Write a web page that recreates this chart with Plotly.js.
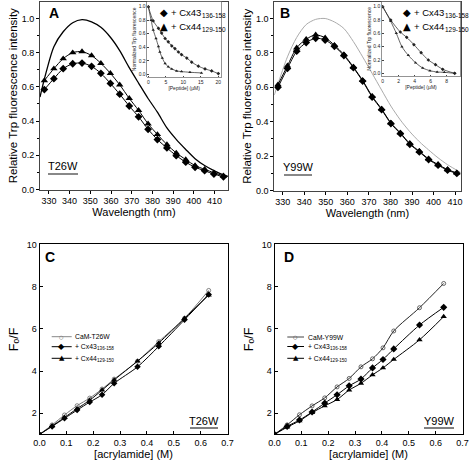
<!DOCTYPE html>
<html><head><meta charset="utf-8">
<script src="https://cdn.plot.ly/plotly-3.0.1.min.js"></script>
<style>html,body{margin:0;padding:0;background:#fff}#chart{width:469px;height:466px}</style>
</head><body><div id="chart"></div>
<script>
// ---------- Panel A (T26W) emission spectra ----------
const wlA = [327.8, 332.4, 336.9, 341.5, 346.0, 350.6, 355.1, 359.7, 364.2, 368.8, 373.3, 377.9, 382.4, 387.0, 391.5, 396.1, 400.6, 405.2, 409.7, 414.3];
const aCx43 = [0.584, 0.648, 0.706, 0.735, 0.739, 0.720, 0.679, 0.620, 0.557, 0.488, 0.425, 0.352, 0.292, 0.243, 0.198, 0.160, 0.130, 0.110, 0.090, 0.074];
const aCx44 = [0.637, 0.706, 0.765, 0.800, 0.806, 0.783, 0.738, 0.679, 0.612, 0.533, 0.463, 0.384, 0.322, 0.263, 0.214, 0.175, 0.140, 0.118, 0.098, 0.080];
const wlAfree = [325.7, 327.8, 332.4, 336.9, 341.5, 346.0, 350.6, 355.1, 359.7, 364.2, 368.8, 373.3, 377.9, 382.4, 387.0, 391.5, 396.1, 400.6, 405.2, 409.7, 414.3, 416.5];
const aFree = [0.54, 0.645, 0.835, 0.922, 0.975, 0.993, 0.980, 0.948, 0.890, 0.812, 0.712, 0.622, 0.532, 0.452, 0.360, 0.293, 0.234, 0.180, 0.140, 0.110, 0.085, 0.077];

// Panel A inset (titration)
const pepA43 = [0, 1.4, 2.9, 3.8, 4.8, 5.7, 6.7, 7.6, 8.6, 9.5, 11.0, 12.4, 14.3, 16.2, 18.1, 20.0];
const insA43 = [1.0, 0.79, 0.68, 0.61, 0.53, 0.48, 0.42, 0.38, 0.33, 0.29, 0.24, 0.18, 0.12, 0.08, 0.05, 0.01];
const pepA44 = [0, 0.8, 1.4, 2.2, 2.9, 3.3, 4.0, 4.8, 5.7, 6.7, 8.1, 9.5, 11.9, 15.2];
const insA44 = [1.0, 0.80, 0.655, 0.53, 0.41, 0.33, 0.24, 0.16, 0.11, 0.08, 0.05, 0.04, 0.03, 0.02];

// ---------- Panel B (Y99W) emission spectra ----------
const wlB = [327.8, 332.2, 336.5, 340.9, 345.3, 349.7, 354.0, 358.4, 362.8, 367.1, 371.5, 375.9, 380.2, 384.6, 389.0, 393.4, 397.7, 402.1, 406.5, 410.8];
const bCx43 = [0.600, 0.710, 0.810, 0.860, 0.885, 0.875, 0.838, 0.785, 0.714, 0.636, 0.543, 0.470, 0.389, 0.331, 0.269, 0.224, 0.180, 0.147, 0.118, 0.099];
const bCx44 = [0.615, 0.725, 0.830, 0.880, 0.905, 0.888, 0.845, 0.790, 0.718, 0.640, 0.548, 0.474, 0.393, 0.335, 0.273, 0.228, 0.184, 0.151, 0.122, 0.102];
const wlBfree = [326.1, 327.8, 332.2, 336.5, 340.9, 345.3, 349.7, 354.0, 358.4, 362.8, 367.1, 371.5, 375.9, 380.2, 384.6, 389.0, 393.4, 397.7, 402.1, 406.5, 410.8, 412.6];
const bFree = [0.555, 0.62, 0.777, 0.890, 0.965, 0.995, 1.000, 0.980, 0.942, 0.866, 0.777, 0.681, 0.584, 0.491, 0.410, 0.342, 0.284, 0.236, 0.190, 0.150, 0.118, 0.105];

// Panel B inset
const pepB43 = [0, 1.0, 2.2, 3.0, 3.9, 4.8, 5.7, 6.6, 7.5, 9.0];
const insB43 = [1.0, 0.80, 0.62, 0.54, 0.43, 0.31, 0.20, 0.13, 0.06, 0.0];
const pepB44 = [0, 1.0, 1.7, 2.4, 3.2, 4.1, 5.0, 5.9, 6.8, 7.7, 9.0];
const insB44 = [1.0, 0.78, 0.60, 0.40, 0.27, 0.16, 0.08, 0.04, 0.02, 0.015, 0.0];

// ---------- Panel C (T26W) Stern-Volmer ----------
const concC = [0, 0.047, 0.093, 0.14, 0.187, 0.233, 0.278, 0.365, 0.444, 0.54, 0.63];
const cFree = [1, 1.45, 1.92, 2.36, 2.72, 3.15, 3.62, 4.47, 5.40, 6.50, 7.82];
const cCx43 = [1, 1.38, 1.76, 2.15, 2.53, 2.88, 3.42, 4.20, 5.17, 6.43, 7.63];
const cCx44 = [1, 1.40, 1.80, 2.22, 2.62, 3.10, 3.58, 4.47, 5.33, 6.50, 7.60];

// ---------- Panel D (Y99W) Stern-Volmer ----------
const concD = [0, 0.047, 0.093, 0.14, 0.187, 0.233, 0.278, 0.322, 0.365, 0.404, 0.444, 0.54, 0.63];
const dFree = [1, 1.45, 1.93, 2.35, 2.73, 3.25, 3.65, 4.20, 4.58, 5.10, 5.90, 7.00, 8.15];
const dCx43 = [1, 1.38, 1.68, 2.06, 2.48, 2.88, 3.30, 3.62, 4.15, 4.55, 5.05, 6.18, 7.02];
const dCx44 = [1, 1.34, 1.64, 2.03, 2.35, 2.65, 3.10, 3.42, 3.82, 4.15, 4.55, 5.48, 6.58];

// Text labels
const wlTicks = [330, 340, 350, 360, 370, 380, 390, 400, 410];
const lblCx43 = '+ Cx43', subCx43 = '136-158';
const lblCx44 = '+ Cx44', subCx44 = '129-150';

// ---------- layout helpers ----------
const W = 469, H = 466;
const fx = v => v / W;
const fy = v => 1 - v / H;
const FONT = 'Liberation Sans, Arial, Helvetica, sans-serif';

const spec = (x, y, name, xa, ya, sym, size, col, lw, mode) => ({
  x, y, name, xaxis: xa, yaxis: ya, type: 'scatter', mode: mode || 'lines+markers',
  line: {shape: 'spline', smoothing: 0.8, color: col, width: lw},
  marker: {symbol: sym, size: size, color: col, line: {width: 0}},
  showlegend: false, hoverinfo: 'skip'
});

const traces = [
  // A
  spec(wlAfree, aFree, 'CaM-T26W', 'x', 'y', 'circle', 1, '#000', 1.3, 'lines'),
  spec(wlA, aCx44, 'Cx44', 'x', 'y', 'triangle-up', 6.5, '#000', 1),
  spec(wlA, aCx43, 'Cx43', 'x', 'y', 'diamond', 6, '#000', 1),
  // B
  spec(wlBfree, bFree, 'CaM-Y99W', 'x2', 'y2', 'circle', 1, '#aaa', 1, 'lines'),
  spec(wlB, bCx44, 'Cx44', 'x2', 'y2', 'triangle-up', 6.5, '#000', 1),
  spec(wlB, bCx43, 'Cx43', 'x2', 'y2', 'diamond', 6, '#000', 1),
  // C
  Object.assign(spec(concC, cFree, 'CaM-T26W', 'x3', 'y3', 'circle-open', 4, '#777', 1), {marker: {symbol: 'circle-open', size: 4, color: '#666', line: {width: 0.8, color: '#666'}}}),
  spec(concC, cCx43, 'Cx43', 'x3', 'y3', 'diamond', 5, '#000', 1),
  spec(concC, cCx44, 'Cx44', 'x3', 'y3', 'triangle-up', 5.5, '#000', 1),
  // D
  Object.assign(spec(concD, dFree, 'CaM-Y99W', 'x4', 'y4', 'circle-open', 4, '#222', 1), {marker: {symbol: 'circle-open', size: 4, color: '#444', line: {width: 0.8, color: '#444'}}}),
  spec(concD, dCx43, 'Cx43', 'x4', 'y4', 'diamond', 5.5, '#000', 1),
  spec(concD, dCx44, 'Cx44', 'x4', 'y4', 'triangle-up', 5.5, '#000', 1),
  // insets
  spec(pepA43, insA43, 'Cx43', 'x5', 'y5', 'diamond', 2.8, '#222', 0.7),
  spec(pepA44, insA44, 'Cx44', 'x5', 'y5', 'triangle-up', 3, '#222', 0.7),
  spec(pepB43, insB43, 'Cx43', 'x6', 'y6', 'diamond', 2.8, '#222', 0.7),
  spec(pepB44, insB44, 'Cx44', 'x6', 'y6', 'triangle-up', 3, '#222', 0.7)
];

const tickF = {family: FONT, size: 9, color: '#000'};
const titleF = {family: FONT, size: 11, color: '#000'};
const mainBase = {showgrid: false, zeroline: false, showline: true, mirror: true, linecolor: '#444', linewidth: 1,
  ticks: 'outside', ticklen: 3, tickcolor: '#000', tickfont: tickF, automargin: false, fixedrange: true};
const svBase = {showgrid: false, zeroline: false, showline: true, mirror: true, linecolor: '#000', linewidth: 1,
  ticks: 'inside', ticklen: 3, tickcolor: '#000', tickfont: tickF, automargin: false, fixedrange: true};
const inBase = {showgrid: false, zeroline: false, showline: true, mirror: true, linecolor: '#666', linewidth: 0.7,
  ticks: 'inside', ticklen: 1.5, tickcolor: '#444', tickfont: {family: FONT, size: 5, color: '#222'}, automargin: false, fixedrange: true};
const inTitleF = {family: FONT, size: 5, color: '#222'};
const fofF = {family: 'Liberation Sans, DejaVu Sans, sans-serif', size: 12.5, color: '#000'};

const layout = {
  width: W, height: H, margin: {l: 0, r: 0, t: 0, b: 0},
  paper_bgcolor: '#fff', plot_bgcolor: '#fff', showlegend: false,
  font: {family: FONT, color: '#000'},
  xaxis: Object.assign({}, mainBase, {domain: [fx(40), fx(228)], range: [325.7, 416.5], anchor: 'y',
    tickvals: wlTicks, title: {text: 'Wavelength (nm)', font: titleF, standoff: 3}}),
  yaxis: Object.assign({}, mainBase, {domain: [fy(189.5), fy(2)], range: [0, 1.096], anchor: 'x',
    dtick: 0.2, tickformat: '.1f', minor: {dtick: 0.1, ticks: 'outside', ticklen: 2.5, tickcolor: '#000'},
    title: {text: 'Relative Trp fluorescence intensity', font: {family: FONT, size: 11.5, color: '#000'}, standoff: 1}}),
  xaxis2: Object.assign({}, mainBase, {domain: [fx(274.3), fx(460.7)], range: [326.1, 412.6], anchor: 'y2',
    tickvals: wlTicks, title: {text: 'Wavelength (nm)', font: titleF, standoff: 3}}),
  yaxis2: Object.assign({}, mainBase, {domain: [fy(190.5), fy(2)], range: [0, 1.096], anchor: 'x2',
    dtick: 0.2, tickformat: '.1f', minor: {dtick: 0.1, ticks: 'outside', ticklen: 2.5, tickcolor: '#000'},
    title: {text: 'Relative Trp fluorescence intensity', font: {family: FONT, size: 11.5, color: '#000'}, standoff: 1}}),
  xaxis3: Object.assign({}, svBase, {domain: [fx(39.5), fx(227.5)], range: [0, 0.7], anchor: 'y3',
    dtick: 0.1, tickformat: '.1f', title: {text: '[acrylamide] (M)', font: titleF, standoff: 3}}),
  yaxis3: Object.assign({}, svBase, {domain: [fy(434.4), fy(244.4)], range: [1, 10], anchor: 'x3',
    tickvals: [2, 4, 6, 8, 10], title: {text: 'Fₒ/F', font: fofF, standoff: 5}}),
  xaxis4: Object.assign({}, svBase, {domain: [fx(274.5), fx(462.5)], range: [0, 0.7], anchor: 'y4',
    dtick: 0.1, tickformat: '.1f', title: {text: '[acrylamide] (M)', font: titleF, standoff: 3}}),
  yaxis4: Object.assign({}, svBase, {domain: [fy(434.4), fy(244.4)], range: [1, 10], anchor: 'x4',
    tickvals: [2, 4, 6, 8, 10], title: {text: 'Fₒ/F', font: fofF, standoff: 5}}),
  xaxis5: Object.assign({}, inBase, {domain: [fx(147.3), fx(221)], range: [-0.29, 20.77], anchor: 'y5',
    dtick: 5, title: {text: '[Peptide] (µM)', font: inTitleF, standoff: 1}}),
  yaxis5: Object.assign({}, inBase, {domain: [fy(77), fy(1.7)], range: [-0.04, 1.074], anchor: 'x5',
    dtick: 0.2, tickformat: '.1f', title: {text: 'Normalized Trp fluorescence', font: inTitleF, standoff: 1}}),
  xaxis6: Object.assign({}, inBase, {domain: [fx(382), fx(460)], range: [-0.09, 9.66], anchor: 'y6',
    dtick: 2, title: {text: '[Peptide] (µM)', font: inTitleF, standoff: 1}}),
  yaxis6: Object.assign({}, inBase, {domain: [fy(76), fy(1.7)], range: [-0.04, 1.075], anchor: 'x6',
    dtick: 0.2, tickformat: '.1f', title: {text: 'Normalized Trp fluorescence', font: inTitleF, standoff: 1}}),
  annotations: [],
  shapes: []
};

const ann = (x, y, text, size, opts) => Object.assign({
  xref: 'paper', yref: 'paper', x: fx(x), y: fy(y), text, showarrow: false,
  xanchor: 'center', yanchor: 'middle', font: {family: FONT, size, color: '#000'}
}, opts || {});
const hline = (x0, x1, y, color, width) => ({type: 'line', xref: 'paper', yref: 'paper',
  x0: fx(x0), x1: fx(x1), y0: fy(y), y1: fy(y), line: {color, width}});

// panel letters
layout.annotations.push(ann(54, 12.5, '<b>A</b>', 14));
layout.annotations.push(ann(284.5, 12.5, '<b>B</b>', 14));
layout.annotations.push(ann(49.5, 256.5, '<b>C</b>', 14));
layout.annotations.push(ann(288.5, 256.5, '<b>D</b>', 14));
// mutant labels
layout.annotations.push(ann(63, 166, 'T26W', 11));
layout.shapes.push(hline(48, 78, 174, '#888', 2));
layout.annotations.push(ann(298, 167, 'Y99W', 11));
layout.shapes.push(hline(284, 312, 175, '#888', 2));
layout.annotations.push(ann(204, 420.5, 'T26W', 11));
layout.shapes.push(hline(190, 218, 428, '#000', 1));
layout.annotations.push(ann(439, 420.5, 'Y99W', 11));
layout.shapes.push(hline(424, 454, 428, '#000', 1));

// label + subscript written as two texts
const EM_CX = 3.196; // width of "+ Cx43" in em
function labelWithSub(tx, y, main, sub, size, col) {
  layout.annotations.push(ann(tx, y, main, size, {xanchor: 'left', font: {family: FONT, size, color: col || '#000'}}));
  layout.annotations.push(ann(tx + EM_CX * size + 0.5, y + size * 0.3, sub, size * 0.68,
    {xanchor: 'left', font: {family: FONT, size: size * 0.68, color: col || '#000'}}));
}

// inset legends
const glyphF = 'DejaVu Sans, sans-serif';
function insetLegend(mx, tx, rows) {
  rows.forEach(([glyph, label, sub, y]) => {
    layout.annotations.push(ann(mx, y, glyph, 10, {font: {family: glyphF, size: 10, color: '#000'}}));
    labelWithSub(tx, y, label, sub, 9.5);
  });
}
insetLegend(164, 169, [['◆', lblCx43, subCx43, 12.7], ['▲', lblCx44, subCx44, 26.7]]);
insetLegend(407, 412, [['◆', lblCx43, subCx43, 12.7], ['▲', lblCx44, subCx44, 26.7]]);

// C / D legends
function svLegend(x0, x1, tx, rows) {
  rows.forEach(([glyph, gcol, lcol, label, sub, y, gsize]) => {
    layout.shapes.push(hline(x0, x1, y, lcol, 1));
    layout.annotations.push(ann((x0 + x1) / 2, y, glyph, gsize, {font: {family: glyphF, size: gsize, color: gcol}}));
    if (sub) labelWithSub(tx, y, label, sub, 6.8);
    else layout.annotations.push(ann(tx, y, label, 6.8, {xanchor: 'left'}));
  });
}
svLegend(51.7, 71.7, 73, [['○', '#666', '#888', 'CaM-T26W', '', 336.7, 5], ['◆', '#000', '#000', lblCx43, subCx43, 346.7, 8], ['▲', '#000', '#000', lblCx44, subCx44, 358.3, 7]]);
svLegend(287.3, 304, 305.5, [['○', '#444', '#444', 'CaM-Y99W', '', 337, 5], ['◆', '#000', '#000', lblCx43, subCx43, 346.5, 8], ['▲', '#000', '#000', lblCx44, subCx44, 358.3, 7]]);

Plotly.newPlot('chart', traces, layout, {staticPlot: true, displayModeBar: false});
</script>
</body></html>
